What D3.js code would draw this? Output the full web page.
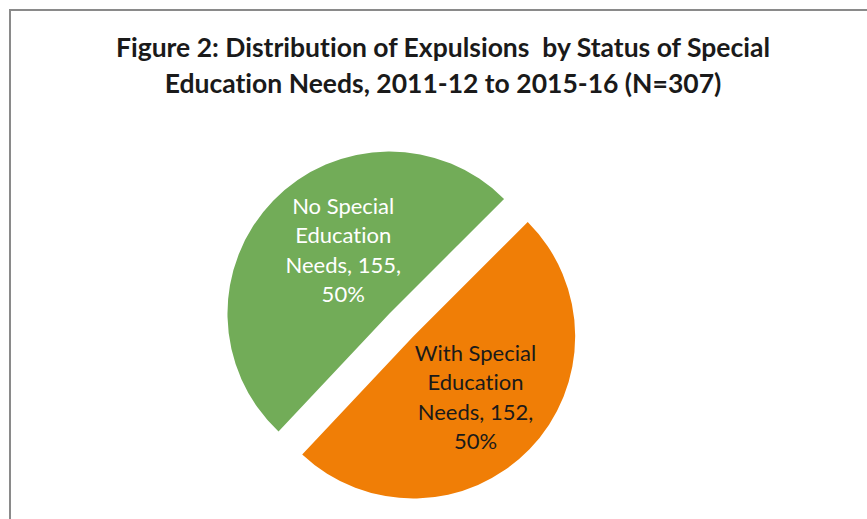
<!DOCTYPE html>
<html>
<head>
<meta charset="utf-8">
<script src="https://cdn.jsdelivr.net/npm/d3@7"></script>
<style>
  body { margin: 0; background: #fff; }
  svg { display: block; }
  text { font-variant-ligatures: none; white-space: pre; }
</style>
</head>
<body>
<svg width="867" height="519"></svg>
<script>
// данные графика
const categories = ["With Special Education Needs", "No Special Education Needs"];
const counts = [152, 155];
const percents = ["50%", "50%"];
const titleLines = [
    "Figure 2: Distribution of Expulsions  by Status of Special",
    "Education Needs, 2011-12 to 2015-16 (N=307)"
];

const colors = ["#F07E06", "#72AC58"];
const textColors = ["#1a1a1a", "#ffffff"];
// какой сектор выдвинут
const exploded = [33, 0];
// небольшая подстройка положения подписей
const labelShift = [[2, 2], [14, -5]];

let svg = d3.select("svg");

// рамка области графика (видна только сверху и слева)
svg.append("path")
    .attr("d", "M10,519 L10,10 L867,10")
    .attr("fill", "none")
    .attr("stroke", "#8a8a8a")
    .attr("stroke-width", 2);

// заголовок
svg.append("text")
    .attr("x", 443)
    .attr("y", 57)
    .attr("text-anchor", "middle")
    .style("font-family", "Lato, 'Open Sans', sans-serif")
    .style("font-weight", "bold")
    .style("font-size", "26.5px")
    .style("fill", "#1a1a1a")
    .selectAll("tspan")
    .data(titleLines)
    .enter()
    .append("tspan")
    .attr("x", 443)
    .attr("dy", (d, i) => i == 0 ? 0 : 36)
    .text(d => d);

const r = 162;
const cx = 389.5, cy = 313.5;

let pie = d3.pie()
    .sort(null)
    .startAngle(45 * Math.PI / 180)
    .endAngle(405 * Math.PI / 180);

let arcs = pie(counts);

let arc = d3.arc().innerRadius(0).outerRadius(r);
let labelArc = d3.arc().innerRadius(84).outerRadius(84);

let g = svg.append("g").attr("transform", `translate(${cx}, ${cy})`);

let slices = g.selectAll(".slice")
    .data(arcs)
    .enter()
    .append("g")
    .attr("class", "slice")
    .attr("transform", (d, i) => {
        let mid = (d.startAngle + d.endAngle) / 2;
        let dx = Math.sin(mid) * exploded[i];
        let dy = -Math.cos(mid) * exploded[i];
        return `translate(${dx}, ${dy})`;
    });

slices.append("path")
    .attr("d", arc)
    .style("fill", (d, i) => colors[i]);

// подписи: категория, значение, процент
function labelLines(i) {
    if (i == 0) return ["With Special", "Education", "Needs, " + counts[i] + ",", percents[i]];
    return ["No Special", "Education", "Needs, " + counts[i] + ",", percents[i]];
}

slices.append("text")
    .attr("transform", (d, i) => {
        let [x, y] = labelArc.centroid(d);
        return `translate(${x + labelShift[i][0]}, ${y + labelShift[i][1]})`;
    })
    .attr("text-anchor", "middle")
    .style("font-family", "Lato, 'Open Sans', sans-serif")
    .style("font-size", "22px")
    .style("fill", (d, i) => textColors[i])
    .each(function (d, i) {
        let lines = labelLines(i);
        let t = d3.select(this);
        lines.forEach((line, k) => {
            t.append("tspan")
                .attr("x", 0)
                .attr("y", (k - (lines.length - 1) / 2) * 29.5 + 8)
                .text(line);
        });
    });
</script>
</body>
</html>
